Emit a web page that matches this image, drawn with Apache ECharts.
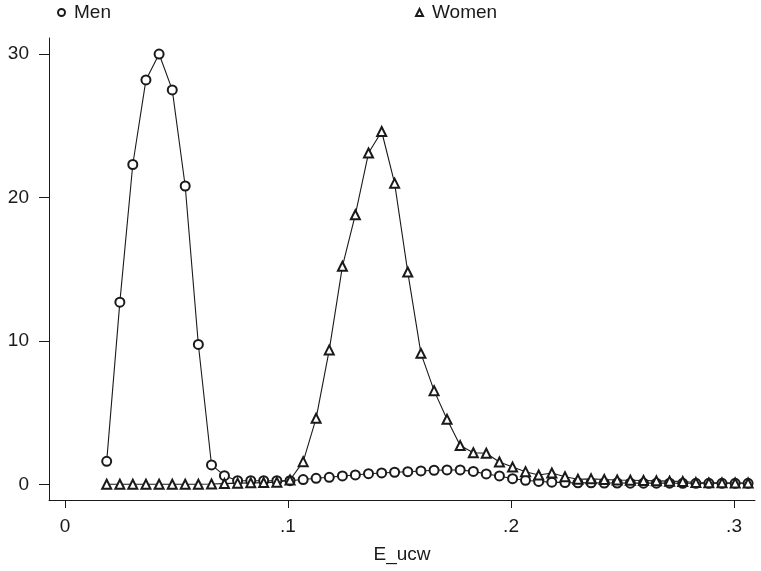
<!DOCTYPE html>
<html>
<head>
<meta charset="utf-8">
<script src="https://cdn.jsdelivr.net/npm/echarts@6/dist/echarts.min.js"></script>
<style>
  html, body { margin: 0; padding: 0; background: #fff; }
  #chart { width: 761px; height: 571px; }
</style>
</head>
<body>
<div id="chart"></div>
<script>
// evaluation points of the density estimates (E_ucw)
const xGrid = [
  0.0187, 0.0246, 0.0304, 0.0363, 0.0422, 0.0481, 0.0539, 0.0598, 0.0657, 0.0715,
  0.0774, 0.0833, 0.0891, 0.0950, 0.1009, 0.1068, 0.1126, 0.1185, 0.1244, 0.1302,
  0.1361, 0.1420, 0.1478, 0.1537, 0.1596, 0.1655, 0.1713, 0.1772, 0.1831, 0.1889,
  0.1948, 0.2007, 0.2065, 0.2124, 0.2183, 0.2242, 0.2300, 0.2359, 0.2418, 0.2476,
  0.2535, 0.2594, 0.2652, 0.2711, 0.2770, 0.2829, 0.2887, 0.2946, 0.3005, 0.3063
]

const menDensity = [
  1.6, 12.7, 22.3, 28.2, 30.0, 27.5, 20.8, 9.75, 1.35, 0.6,
  0.25, 0.25, 0.25, 0.25, 0.25, 0.33, 0.42, 0.49, 0.58, 0.65,
  0.74, 0.79, 0.84, 0.88, 0.93, 0.98, 1.0, 1.0, 0.9, 0.72,
  0.58, 0.39, 0.28, 0.2, 0.15, 0.12, 0.1, 0.1, 0.09, 0.09,
  0.08, 0.08, 0.08, 0.08, 0.07, 0.07, 0.07, 0.07, 0.07, 0.07
]

const womenDensity = [
  0, 0, 0, 0, 0, 0, 0, 0, 0.02, 0.05,
  0.08, 0.1, 0.12, 0.15, 0.3, 1.58, 4.6, 9.37, 15.2, 18.8,
  23.1, 24.6, 21.0, 14.8, 9.13, 6.53, 4.53, 2.7, 2.2, 2.16,
  1.55, 1.2, 0.88, 0.65, 0.79, 0.53, 0.35, 0.38, 0.33, 0.3,
  0.28, 0.26, 0.24, 0.22, 0.2, 0.12, 0.1, 0.1, 0.09, 0.09
]

const xTicks = [0, 0.1, 0.2, 0.3]
const yTicks = [0, 10, 20, 30]

const ink = "#1a1a1a"
const font = "Liberation Sans"

const pairs = (ys) => xGrid.map((x, i) => [x, ys[i]])

const chart = echarts.init(document.getElementById("chart"))

const legendText = { fontFamily: font, fontSize: 19, color: ink, padding: [0, 0, 0, 4] }

const options = {
  animation: false,
  backgroundColor: "#fff",
  textStyle: { fontFamily: font, color: ink },
  legend: [
    {
      data: [{ name: "Men", icon: "emptyCircle" }],
      left: 52,
      top: -2,
      itemWidth: 7,
      itemHeight: 7,
      textStyle: legendText,
    },
    {
      data: [{ name: "Women", icon: "emptyTriangle" }],
      left: 410,
      top: -2,
      itemWidth: 7,
      itemHeight: 7,
      textStyle: legendText,
    },
  ],
  grid: {
    left: 49,
    right: 6,
    top: 38,
    bottom: 71,
    containLabel: false,
  },
  xAxis: {
    type: "value",
    min: -0.00717,
    max: 0.3094,
    name: "E_ucw",
    nameLocation: "middle",
    nameGap: 45,
    nameTextStyle: { fontFamily: font, fontSize: 19, color: ink },
    axisLine: { show: true, onZero: false, lineStyle: { color: ink, width: 1 } },
    axisTick: { show: true, customValues: xTicks, length: 8, lineStyle: { color: ink } },
    axisLabel: {
      customValues: xTicks,
      margin: 17,
      fontSize: 19,
      color: ink,
      fontFamily: font,
      formatter: (v) => (v === 0 ? "0" : String(+v.toFixed(1)).replace(/^0/, "")),
    },
    splitLine: { show: false },
  },
  yAxis: {
    type: "value",
    min: -1.095,
    max: 31.12,
    axisLine: { show: true, onZero: false, lineStyle: { color: ink, width: 1 } },
    axisTick: { show: true, customValues: yTicks, length: 10, lineStyle: { color: ink } },
    axisLabel: {
      customValues: yTicks,
      margin: 20,
      fontSize: 19,
      color: ink,
      fontFamily: font,
    },
    splitLine: { show: false },
  },
  series: [
    {
      name: "Men",
      type: "line",
      data: pairs(menDensity),
      symbol: "emptyCircle",
      symbolSize: 9,
      showAllSymbol: true,
      lineStyle: { color: ink, width: 1.1 },
      itemStyle: { color: ink, borderColor: ink, borderWidth: 0.9 },
    },
    {
      name: "Women",
      type: "line",
      data: pairs(womenDensity),
      symbol: "emptyTriangle",
      symbolSize: 9,
      showAllSymbol: true,
      lineStyle: { color: ink, width: 1.1 },
      itemStyle: { color: ink, borderColor: ink, borderWidth: 0.9 },
    },
  ],
}

chart.setOption(options)
window.addEventListener("resize", () => chart.resize())
</script>
</body>
</html>
